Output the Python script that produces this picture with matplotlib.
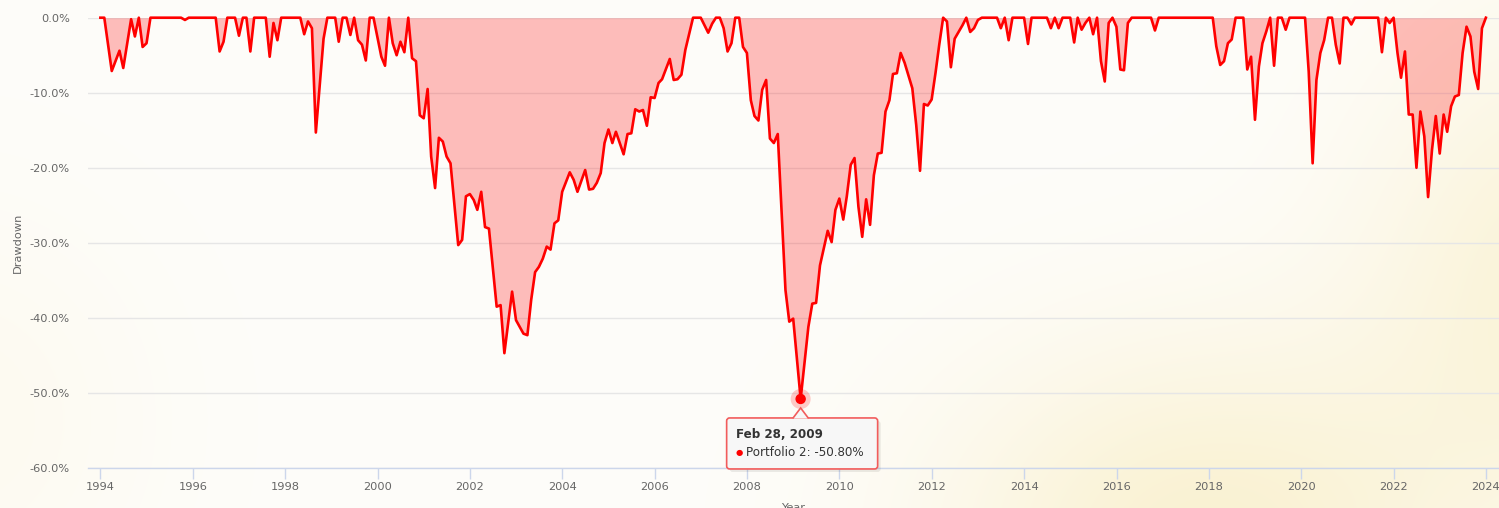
import numpy as np
import pandas as pd
import matplotlib
matplotlib.use("Agg")
import matplotlib.pyplot as plt
import matplotlib.dates as mdates
from matplotlib.patches import FancyBboxPatch, Polygon, Circle
from matplotlib.transforms import IdentityTransform
from matplotlib.ticker import FuncFormatter

# month-end drawdown of "Portfolio 2" (%) at its turning points
months = [
    "1993-12", "1994-01", "1994-03", "1994-05", "1994-06", "1994-08", "1994-09", "1994-10",
    "1994-11", "1994-12", "1995-01", "1995-09", "1995-10", "1995-11", "1996-06", "1996-07",
    "1996-08", "1996-09", "1996-11", "1996-12", "1997-01", "1997-02", "1997-03", "1997-04",
    "1997-07", "1997-08", "1997-09", "1997-10", "1997-11", "1998-04", "1998-05", "1998-06",
    "1998-07", "1998-08", "1998-10", "1998-11", "1999-01", "1999-02", "1999-03", "1999-04",
    "1999-05", "1999-06", "1999-07", "1999-08", "1999-09", "1999-10", "1999-11", "2000-01",
    "2000-02", "2000-03", "2000-04", "2000-05", "2000-06", "2000-07", "2000-08", "2000-09",
    "2000-10", "2000-11", "2000-12", "2001-01", "2001-02", "2001-03", "2001-04", "2001-05",
    "2001-06", "2001-07", "2001-09", "2001-10", "2001-11", "2001-12", "2002-01", "2002-02",
    "2002-03", "2002-04", "2002-05", "2002-07", "2002-08", "2002-09", "2002-11", "2002-12",
    "2003-02", "2003-03", "2003-04", "2003-05", "2003-06", "2003-07", "2003-08", "2003-09",
    "2003-10", "2003-11", "2003-12", "2004-02", "2004-03", "2004-04", "2004-06", "2004-07",
    "2004-08", "2004-09", "2004-10", "2004-11", "2004-12", "2005-01", "2005-02", "2005-04",
    "2005-05", "2005-06", "2005-07", "2005-08", "2005-09", "2005-10", "2005-11", "2005-12",
    "2006-01", "2006-02", "2006-04", "2006-05", "2006-06", "2006-07", "2006-08", "2006-10",
    "2006-12", "2007-02", "2007-03", "2007-04", "2007-05", "2007-06", "2007-07", "2007-08",
    "2007-09", "2007-10", "2007-11", "2007-12", "2008-01", "2008-02", "2008-03", "2008-04",
    "2008-05", "2008-06", "2008-07", "2008-08", "2008-10", "2008-11", "2008-12", "2009-02",
    "2009-04", "2009-05", "2009-06", "2009-07", "2009-09", "2009-10", "2009-11", "2009-12",
    "2010-01", "2010-02", "2010-03", "2010-04", "2010-05", "2010-06", "2010-07", "2010-08",
    "2010-09", "2010-10", "2010-11", "2010-12", "2011-01", "2011-02", "2011-03", "2011-04",
    "2011-05", "2011-07", "2011-08", "2011-09", "2011-10", "2011-11", "2011-12", "2012-01",
    "2012-02", "2012-03", "2012-04", "2012-05", "2012-06", "2012-07", "2012-08", "2012-09",
    "2012-10", "2012-11", "2012-12", "2013-01", "2013-05", "2013-06", "2013-07", "2013-08",
    "2013-09", "2013-12", "2014-01", "2014-02", "2014-06", "2014-07", "2014-08", "2014-09",
    "2014-10", "2014-12", "2015-01", "2015-02", "2015-03", "2015-04", "2015-05", "2015-06",
    "2015-07", "2015-08", "2015-09", "2015-10", "2015-11", "2015-12", "2016-01", "2016-02",
    "2016-03", "2016-04", "2016-09", "2016-10", "2016-11", "2018-01", "2018-02", "2018-03",
    "2018-04", "2018-05", "2018-06", "2018-07", "2018-09", "2018-10", "2018-11", "2018-12",
    "2019-01", "2019-02", "2019-03", "2019-04", "2019-05", "2019-06", "2019-07", "2019-08",
    "2019-09", "2020-01", "2020-02", "2020-03", "2020-04", "2020-05", "2020-06", "2020-07",
    "2020-08", "2020-09", "2020-10", "2020-11", "2020-12", "2021-01", "2021-02", "2021-08",
    "2021-09", "2021-10", "2021-11", "2021-12", "2022-01", "2022-02", "2022-03", "2022-04",
    "2022-05", "2022-06", "2022-07", "2022-08", "2022-09", "2022-10", "2022-11", "2022-12",
    "2023-01", "2023-02", "2023-03", "2023-04", "2023-05", "2023-06", "2023-07", "2023-08",
    "2023-09", "2023-10", "2023-11", "2023-12",
]
drawdown = [
    0, 0, -7.1, -4.4, -6.7, -0.2, -2.5, 0,
    -3.9, -3.4, 0, 0, -0.3, 0, 0, -4.5,
    -3.2, 0, 0, -2.4, 0, 0, -4.5, 0,
    0, -5.2, -0.7, -3.0, 0, 0, -2.2, -0.5,
    -1.4, -15.3, -2.8, 0, 0, -3.2, 0, 0,
    -2.3, 0, -3.0, -3.6, -5.7, 0, 0, -5.2,
    -6.4, 0, -3.4, -5.0, -3.2, -4.6, 0, -5.4,
    -5.8, -13.0, -13.4, -9.5, -18.5, -22.7, -16.0, -16.5,
    -18.5, -19.4, -30.3, -29.6, -23.8, -23.5, -24.3, -25.6,
    -23.2, -27.9, -28.1, -38.5, -38.3, -44.7, -36.5, -40.3,
    -42.1, -42.3, -37.6, -33.9, -33.2, -32.1, -30.5, -30.9,
    -27.4, -27.0, -23.2, -20.6, -21.6, -23.2, -20.3, -22.9,
    -22.8, -22.0, -20.7, -16.7, -14.9, -16.7, -15.2, -18.2,
    -15.5, -15.4, -12.2, -12.5, -12.3, -14.4, -10.6, -10.7,
    -8.7, -8.2, -5.5, -8.3, -8.2, -7.6, -4.3, 0,
    0, -2.0, -0.8, 0, 0, -1.4, -4.5, -3.4,
    0, 0, -3.9, -4.7, -11.0, -13.1, -13.7, -9.6,
    -8.3, -16.1, -16.7, -15.5, -36.3, -40.5, -40.1, -50.8,
    -41.2, -38.1, -38.0, -33.0, -28.4, -29.9, -25.6, -24.1,
    -26.9, -23.8, -19.6, -18.7, -25.2, -29.2, -24.2, -27.6,
    -21.0, -18.1, -18.0, -12.5, -11.0, -7.5, -7.4, -4.7,
    -6.0, -9.4, -14.3, -20.4, -11.5, -11.7, -10.9, -7.3,
    -3.6, 0, -0.5, -6.6, -2.8, -1.9, -1.0, 0,
    -1.9, -1.4, -0.3, 0, 0, -1.4, 0, -3.0,
    0, 0, -3.5, 0, 0, -1.4, 0, -1.4,
    0, 0, -3.3, 0, -1.6, -0.7, 0, -2.2,
    0, -5.8, -8.5, -0.7, 0, -1.2, -6.9, -7.0,
    -0.7, 0, 0, -1.7, 0, 0, -3.8, -6.3,
    -5.8, -3.4, -2.9, 0, 0, -6.9, -5.2, -13.6,
    -6.5, -3.4, -1.8, 0, -6.4, 0, 0, -1.6,
    0, 0, -7.2, -19.4, -8.3, -4.7, -3.0, 0,
    0, -3.6, -6.1, 0, 0, -0.9, 0, 0,
    -4.6, 0, -0.7, 0, -4.7, -8.0, -4.5, -12.9,
    -12.9, -20.0, -12.5, -15.8, -23.9, -17.6, -13.1, -18.1,
    -12.9, -15.2, -11.8, -10.5, -10.3, -4.7, -1.2, -2.5,
    -7.2, -9.5, -1.4, 0,
]
series_name = "Portfolio 2"
y_ticks = [0, -10, -20, -30, -40, -50, -60]
x_tick_years = list(range(1994, 2025, 2))

dates = pd.to_datetime(months) + pd.offsets.MonthEnd(0)
dd = np.array(drawdown)

W, H = 1499, 508
fig = plt.figure(figsize=(W / 100, H / 100), dpi=100)

# warm background glow
bg = fig.add_axes([0, 0, 1, 1], zorder=-10)
yy, xx = np.mgrid[0:H, 0:W]
w = (0.85 * np.exp(-(((xx - 1200) / 260.0) ** 2 + ((yy - 540) / 200.0) ** 2))
     + 0.7 * np.exp(-(((xx - 1560) / 200.0) ** 2 + ((yy - 280) / 260.0) ** 2))
     + 0.2 * np.exp(-(((xx + 40) / 200.0) ** 2 + ((yy - 420) / 220.0) ** 2)))
w = np.clip(w, 0, 1)[..., None]
base = np.array([254, 253, 250]) / 255.0
warm = np.array([249, 240, 204]) / 255.0
bg.imshow(base * (1 - w) + warm * w, aspect="auto", extent=[0, 1, 0, 1])
bg.axis("off")

left, right = 88 / W, 1.0
top, bottom = 1 - 17.7 / H, 1 - 468 / H
ax = fig.add_axes([left, bottom, right - left, top - bottom])
ax.set_facecolor("none")

ax.fill_between(dates, dd, 0, color="#ff0000", alpha=0.25, linewidth=0, zorder=2)
ax.plot(dates, dd, color="#ff0000", linewidth=1.9, zorder=3, clip_on=False,
        solid_joinstyle="round")

x0 = mdates.date2num(pd.Timestamp("1994-01-01"))
x1 = mdates.date2num(pd.Timestamp("2024-01-01"))
ppx = (1486 - 100.5) / (x1 - x0)
ax.set_xlim(x0 - (100.5 - 88) / ppx, x0 + (W - 100.5) / ppx)
ax.set_ylim(-60, 0)

ax.set_yticks(y_ticks)
ax.yaxis.set_major_formatter(FuncFormatter(lambda v, p: f"{v:.1f}%"))
ax.set_xticks([pd.Timestamp(f"{y}-01-01") for y in x_tick_years])
ax.set_xticklabels([str(y) for y in x_tick_years])

ax.grid(axis="y", color="#e6e6e6", linewidth=1)
ax.set_axisbelow(True)
for s in ["top", "right", "left"]:
    ax.spines[s].set_visible(False)
ax.spines["bottom"].set_color("#ccd6eb")
ax.spines["bottom"].set_linewidth(1)
ax.tick_params(axis="x", colors="#ccd6eb", length=8, width=1, pad=2,
               labelcolor="#666666", labelsize=8.2)
ax.tick_params(axis="y", length=0, pad=13, labelcolor="#666666", labelsize=8.2)
ax.set_ylabel("Drawdown", color="#666666", fontsize=8.2, labelpad=5)
ax.set_xlabel("Year", color="#666666", fontsize=8.2, labelpad=8)

# tooltip at the deepest point
i_min = int(np.argmin(dd))
px, py = ax.transData.transform((mdates.date2num(dates[i_min]), dd[i_min]))
ident = IdentityTransform()
fig.add_artist(Circle((px, py), 10, transform=ident, color="#ff0000", alpha=0.2,
                      linewidth=0, zorder=5))
fig.add_artist(Circle((px, py), 4.5, transform=ident, color="#ff0000", zorder=6))

bx0, bx1 = px - 74, px + 77
by1, by0 = py - 19, py - 70
fig.add_artist(FancyBboxPatch((bx0 + 3, by0 - 3), bx1 - bx0, by1 - by0, transform=ident,
                              boxstyle="round,pad=0,rounding_size=3", facecolor="#000000",
                              alpha=0.08, linewidth=0, zorder=6))
fig.add_artist(FancyBboxPatch((bx0, by0), bx1 - bx0, by1 - by0, transform=ident,
                              boxstyle="round,pad=0,rounding_size=3", facecolor="#f7f7f7",
                              edgecolor="#f25c5c", linewidth=1.2, zorder=7))
fig.add_artist(Polygon([(px - 8, by1 - 0.6), (px, py - 9), (px + 8, by1 - 0.6)],
                       closed=False, transform=ident, facecolor="#f7f7f7",
                       edgecolor="#f25c5c", linewidth=1.2, zorder=8))
fig.text((bx0 + 9) / W, (by1 - 17) / H, dates[i_min].strftime("%b %d, %Y"),
         fontsize=8.6, fontweight="bold", color="#333333", va="center", zorder=9)
fig.text((bx0 + 9) / W, (by1 - 35) / H, "\u25cf", fontsize=6, color="#ff0000",
         va="center", zorder=9)
fig.text((bx0 + 19) / W, (by1 - 35) / H, f"{series_name}: {dd[i_min]:.2f}%",
         fontsize=8.6, color="#333333", va="center", zorder=9)

fig.savefig("out.png", dpi=100)
